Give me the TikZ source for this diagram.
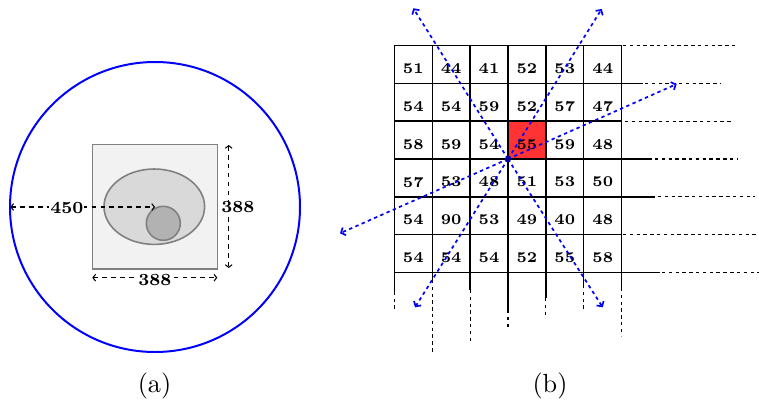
\documentclass[tikz,border=0pt]{standalone}
\usetikzlibrary{arrows.meta}

\begin{document}
\begin{tikzpicture}[
        x=0.3817pt, y=-0.3817pt,
        cell/.style={font=\fontsize{5.7}{6.8}\selectfont\bfseries, inner sep=0pt},
        dimlabel/.style={fill=white, inner sep=0.3pt, font=\fontsize{6.5}{7.8}\selectfont\bfseries},
        caption/.style={font=\normalsize, inner sep=0pt},
        gridline/.style={line width=0.5pt, draw=black},
        ext/.style={line width=0.4pt, draw=black, dash pattern=on 1.3pt off 1.3pt},
        dimarr/.style={{Straight Barb[length=1pt,width=2.6pt]}-{Straight Barb[length=1pt,width=2.6pt]},
            line width=0.4pt, dash pattern=on 1.7pt off 1.7pt},
        ray/.style={-{Straight Barb[length=1.4pt,width=3.2pt]}, draw=blue, line width=0.65pt,
            dash pattern=on 1.3pt off 1.3pt},
        region/.style={draw=gray, line width=0.6pt}
    ]
    \useasboundingbox (0,0) rectangle (759,401);

    % (a)
    \coordinate (ctr-a) at (155,207);
    \draw[blue, line width=0.76pt] (ctr-a) circle[radius=145];
    \draw[region, fill=gray!10] (92.3,144.3) rectangle (217.3,269);
    \draw[region, fill=gray!30] (154.3,206.7) ellipse[x radius=50.3, y radius=37.7];
    \draw[region, fill=gray!60] (163.3,223.3) circle[radius=17];

    \coordinate (rim) at (10.3,207);
    \draw[dimarr] (rim) -- (ctr-a);
    \node[dimlabel] (r450) at (66.8,207.5) {450};
    \coordinate (wl) at (92.3,277.7);
    \coordinate (wr) at (217.3,277.7);
    \draw[dimarr] (wl) -- (wr);
    \node[dimlabel] (w388) at (154.8,280.5) {388};
    \coordinate (ht) at (228.7,145);
    \coordinate (hb) at (228.7,268);
    \draw[dimarr] (ht) -- (hb);
    \node[dimlabel] (h388) at (237.8,207.5) {388};

    % (b)
    \fill[red!80] (508,121.1) rectangle (545.9,159);
    \foreach \j/\se/\ds/\de in {0/621.7/623/735, 1/643/645/720, 2/621.7/625/732,
            3/652/655/738, 4/655/658/755, 5/621.7/623/759, 6/660/662/759} {
        \draw[gridline] (394.3,{45.3+37.9*\j}) -- (\se,{45.3+37.9*\j});
        \draw[ext] (\ds,{45.3+37.9*\j}) -- (\de,{45.3+37.9*\j});
    }
    \foreach \i/\se/\de in {0/291.7/311.7, 1/280/351.7, 2/290/341, 3/310/326.7,
            4/298/315, 5/285/311.7, 6/288/335.7} {
        \draw[gridline] ({394.3+37.9*\i},45.3) -- ({394.3+37.9*\i},\se);
        \draw[ext] ({394.3+37.9*\i},\se) -- ({394.3+37.9*\i},\de);
    }
    \foreach \vals [count=\r from 0] in {{51,44,41,52,53,44},{54,54,59,52,57,47},
            {58,59,54,55,59,48},{57,53,48,51,53,50},{54,90,53,49,40,48},{54,54,54,52,55,58}} {
        \foreach \v [count=\c from 0] in \vals {
            \node[cell] (c\r\c) at ({413.25+37.9*\c},{68.4+37.9*\r}) {\v};
        }
    }

    \coordinate (ctr-b) at (508,159);
    \coordinate (ray-nw) at (413.3,8.3);
    \coordinate (ray-ne) at (601.7,9);
    \coordinate (ray-e) at (676.7,84);
    \coordinate (ray-w) at (340,233.3);
    \coordinate (ray-sw) at (415,307.3);
    \coordinate (ray-se) at (602.7,307.3);
    \foreach \e in {nw,ne,e,w,sw,se}
        \draw[ray] (ctr-b) -- (ray-\e);
    \fill[blue!60!black] (ctr-b) circle[radius=3];

    \node[caption] (cap-a) at (154.5,386) {(a)};
    \node[caption] (cap-b) at (550,386) {(b)};
\end{tikzpicture}
\end{document}
